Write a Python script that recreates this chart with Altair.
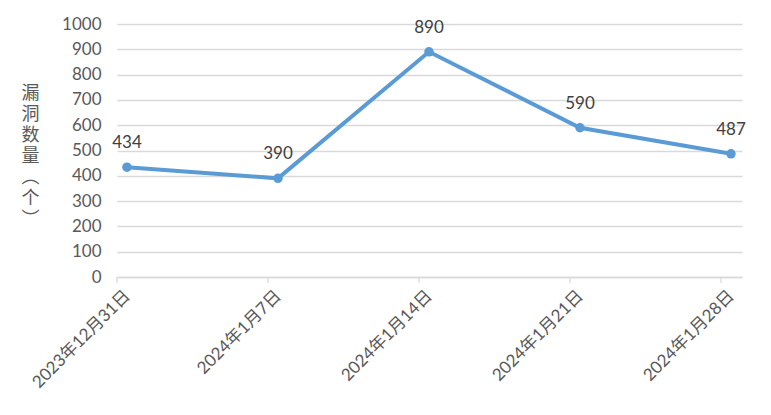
import altair as alt
import pandas as pd
import json

dates = ["2023年12月31日", "2024年1月7日", "2024年1月14日", "2024年1月21日", "2024年1月28日"]
counts = [434, 390, 890, 590, 487]
y_ticks = [0, 100, 200, 300, 400, 500, 600, 700, 800, 900, 1000]
y_title = ["漏", "洞", "数", "量", "︵", "个", "︶"]

df = pd.DataFrame({"idx": list(range(len(dates))), "date": dates, "count": counts})

FONT = "Lato, Noto Sans CJK SC, sans-serif"
label_expr = "[" + ",".join(json.dumps(d, ensure_ascii=False) for d in dates) + "][datum.value]"

x_scale = alt.Scale(domain=[-0.066, len(dates) - 1 + 0.073], nice=False, zero=False)
y_scale = alt.Scale(domain=[0, 1000], nice=False)

x_axis = alt.Axis(
    values=list(range(len(dates))),
    labelExpr=label_expr,
    labelAngle=-45,
    labelAlign="right",
    labelBaseline="middle",
    labelPadding=16,
    labelFontSize=17,
    labelColor="#595959",
    labelFont=FONT,
    labelOverlap=False,
    ticks=False,
    grid=False,
    domainColor="#D9D9D9",
    domainWidth=1.3,
    title=None,
)

base = alt.Chart(df)

x_enc = alt.X("idx:Q", scale=x_scale, axis=x_axis)

y_enc = alt.Y(
    "count:Q",
    scale=y_scale,
    axis=alt.Axis(
        values=y_ticks,
        format="d",
        labelOverlap=False,
        grid=True,
        gridColor="#D9D9D9",
        gridWidth=1.3,
        domain=False,
        ticks=False,
        labelPadding=16,
        labelFontSize=17,
        labelColor="#595959",
        labelFont=FONT,
        title=y_title,
        titleAngle=0,
        titleFont=FONT,
        titleFontSize=18,
        titleFontWeight="normal",
        titleColor="#595959",
        titleLineHeight=21,
        titleX=-87,
        titleY=69,
        titleAlign="center",
        titleBaseline="middle",
    ),
)

line = base.mark_line(color="#5B9BD5", strokeWidth=4).encode(x=x_enc, y=y_enc)
points = base.mark_circle(color="#5B9BD5", size=90, opacity=1).encode(x=x_enc, y=y_enc)
labels = base.mark_text(
    dy=-24, fontSize=17, color="#404040", font=FONT
).encode(x=x_enc, y=y_enc, text="count:Q")

ticks = base.transform_calculate(tx="datum.idx - 0.066").mark_rule(
    color="#D9D9D9", strokeWidth=1.3
).encode(x=alt.X("tx:Q", scale=x_scale, axis=x_axis), y=alt.value(253), y2=alt.value(259))

chart = alt.layer(line, points, labels, ticks).properties(
    width=625,
    height=253,
    autosize=alt.AutoSizeParams(type="none"),
    padding={"left": 109, "top": 16, "right": 21, "bottom": 130},
).configure_view(stroke=None)

chart.save("out.html", embed_options={"renderer": "svg", "actions": False})
